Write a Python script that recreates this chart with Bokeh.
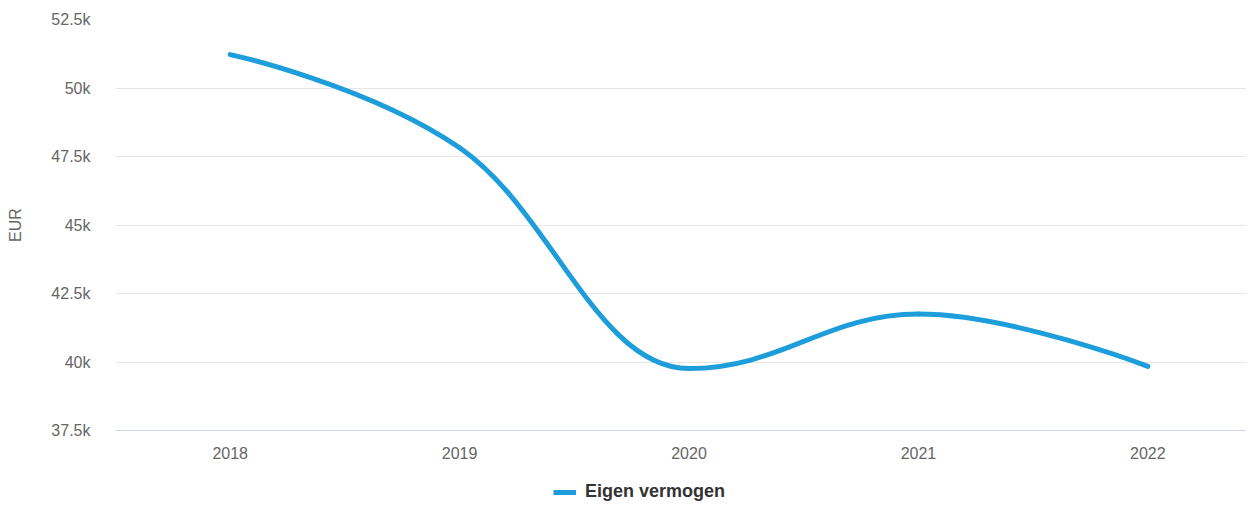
from bokeh.plotting import figure
from bokeh.layouts import column
from bokeh.models import Range1d, FixedTicker, Legend, LegendItem, ColumnDataSource
from bokeh.embed import file_html
from bokeh.resources import INLINE

# ---- data ----
categories = ["2018", "2019", "2020", "2021", "2022"]
values = [51220, 47820, 39760, 41750, 39840]
series_name = "Eigen vermogen"
y_ticks = [37500, 40000, 42500, 45000, 47500, 50000, 52500]
y_tick_labels = ["37.5k", "40k", "42.5k", "45k", "47.5k", "50k", "52.5k"]
y_title = "EUR"

COLOR = "#1e9ddb"
FONT = "Liberation Sans"

xs = list(range(len(categories)))

# Highcharts-style spline control points
smoothing = 1.5
denom = smoothing + 1
left_c = [None] * len(xs)
right_c = [None] * len(xs)
for i in range(len(xs)):
    px, py = xs[i], values[i]
    if 0 < i < len(xs) - 1:
        lx, ly = xs[i - 1], values[i - 1]
        nx, ny = xs[i + 1], values[i + 1]
        lcx = (smoothing * px + lx) / denom
        lcy = (smoothing * py + ly) / denom
        rcx = (smoothing * px + nx) / denom
        rcy = (smoothing * py + ny) / denom
        if rcx != lcx:
            corr = ((rcy - lcy) * (rcx - px)) / (rcx - lcx) + py - rcy
            lcy += corr
            rcy += corr
        if lcy > ly and lcy > py:
            lcy = max(ly, py); rcy = 2 * py - lcy
        elif lcy < ly and lcy < py:
            lcy = min(ly, py); rcy = 2 * py - lcy
        if rcy > ny and rcy > py:
            rcy = max(ny, py); lcy = 2 * py - rcy
        elif rcy < ny and rcy < py:
            rcy = min(ny, py); lcy = 2 * py - rcy
        left_c[i] = (lcx, lcy)
        right_c[i] = (rcx, rcy)
    else:
        left_c[i] = (px, py)
        right_c[i] = (px, py)

seg = dict(x0=[], y0=[], x1=[], y1=[], cx0=[], cy0=[], cx1=[], cy1=[])
for i in range(1, len(xs)):
    seg["x0"].append(xs[i - 1]); seg["y0"].append(values[i - 1])
    seg["x1"].append(xs[i]); seg["y1"].append(values[i])
    seg["cx0"].append(right_c[i - 1][0]); seg["cy0"].append(right_c[i - 1][1])
    seg["cx1"].append(left_c[i][0]); seg["cy1"].append(left_c[i][1])

p = figure(width=1246, height=466, output_backend="svg", toolbar_location=None,
           x_range=Range1d(-0.5, 4.43), y_range=Range1d(y_ticks[0], y_ticks[-1]),
           min_border_left=115, min_border_top=19, min_border_right=0, min_border_bottom=36)
p.outline_line_color = None
p.background_fill_color = "white"

p.bezier(x0="x0", y0="y0", x1="x1", y1="y1", cx0="cx0", cy0="cy0", cx1="cx1", cy1="cy1",
         source=ColumnDataSource(seg), line_color=COLOR, line_width=5, line_cap="round")

# axes
p.xaxis.ticker = FixedTicker(ticks=xs)
p.xaxis.major_label_overrides = {i: c for i, c in zip(xs, categories)}
p.xaxis.axis_line_color = "#ccd6eb"
p.xaxis.major_tick_line_color = None
p.xaxis.minor_tick_line_color = None
p.xaxis.major_tick_out = 0
p.xaxis.major_tick_in = 0
p.xaxis.major_label_standoff = 16
p.xaxis.major_label_text_font = FONT
p.xaxis.major_label_text_font_size = "16px"
p.xaxis.major_label_text_color = "#666666"

p.yaxis.ticker = FixedTicker(ticks=y_ticks)
p.yaxis.major_label_overrides = {t: l for t, l in zip(y_ticks, y_tick_labels)}
p.yaxis.axis_line_color = None
p.yaxis.major_tick_line_color = None
p.yaxis.minor_tick_line_color = None
p.yaxis.major_tick_out = 0
p.yaxis.major_tick_in = 0
p.yaxis.major_label_standoff = 25
p.yaxis.major_label_text_font = FONT
p.yaxis.major_label_text_font_size = "16px"
p.yaxis.major_label_text_color = "#666666"
p.yaxis.axis_label = y_title
p.yaxis.axis_label_text_font = FONT
p.yaxis.axis_label_text_font_style = "normal"
p.yaxis.axis_label_text_font_size = "16px"
p.yaxis.axis_label_text_color = "#666666"
p.yaxis.axis_label_standoff = 24

p.xgrid.grid_line_color = None
p.ygrid.ticker = FixedTicker(ticks=y_ticks[1:])
p.ygrid.grid_line_color = "#e6e6e6"
p.ygrid.grid_line_width = 1

# legend strip below the chart (its frame is aligned with the chart's frame)
pl = figure(width=1246, height=36, output_backend="svg", toolbar_location=None,
            x_axis_type=None, y_axis_type=None, min_border=0,
            x_range=Range1d(0, 1), y_range=Range1d(0, 1))
pl.outline_line_color = None
pl.grid.visible = False
# a line kept outside the visible range, only used for the legend swatch
dummy = pl.line(x=[5, 6], y=[5, 6], line_color=COLOR, line_width=5)
legend = Legend(items=[LegendItem(label=series_name, renderers=[dummy])],
                location=(438, 0), orientation="horizontal",
                border_line_color=None, background_fill_alpha=0,
                padding=0, margin=0, spacing=0,
                glyph_width=23, glyph_height=20, label_standoff=9,
                label_text_font=FONT, label_text_font_style="bold",
                label_text_font_size="18px", label_text_color="#333333")
pl.add_layout(legend, "center")

layout = column(p, pl, spacing=0)
open("out.html", "w").write(file_html(layout, INLINE))
